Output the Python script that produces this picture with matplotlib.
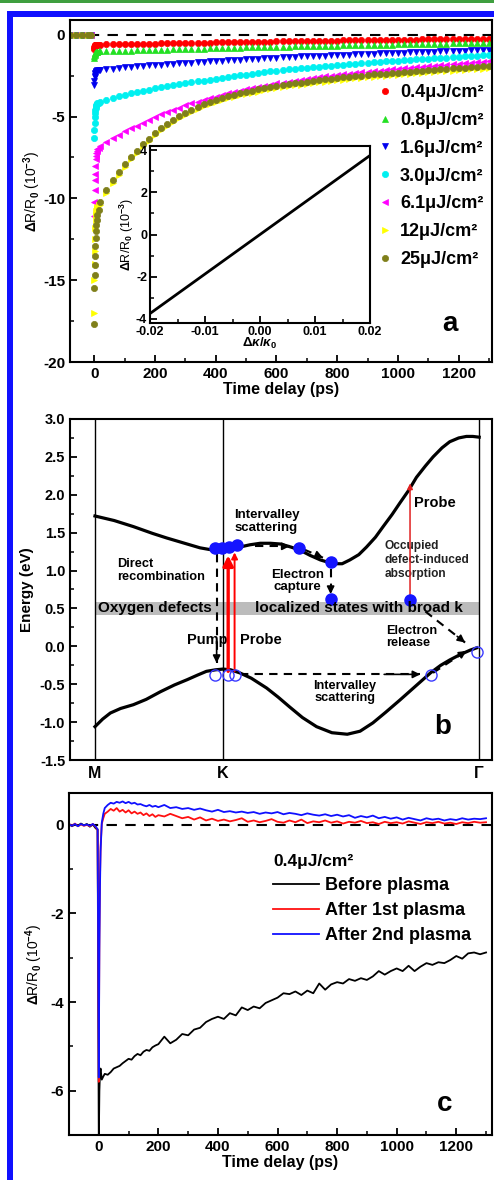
# Figura de tres paneles: reflectividad transitoria y diagrama de bandas
import numpy as np
import matplotlib.pyplot as plt
from matplotlib.patches import Rectangle
from matplotlib.ticker import MultipleLocator, FormatStrFormatter

plt.rcParams['font.family'] = ['Liberation Sans', 'DejaVu Sans']
plt.rcParams['font.weight'] = 'bold'
plt.rcParams['axes.labelweight'] = 'bold'
plt.rcParams['axes.unicode_minus'] = False
plt.rcParams['mathtext.fontset'] = 'custom'
plt.rcParams['mathtext.rm'] = 'Liberation Sans'
plt.rcParams['mathtext.it'] = 'Liberation Sans:italic'
plt.rcParams['mathtext.bf'] = 'Liberation Sans:bold'
plt.rcParams['axes.linewidth'] = 1.5

# ---------------- DATOS PANEL a ----------------
t_a = np.concatenate([[-80, -60, -40, -20, -10, 0, 0.5, 1, 1.5, 2, 3, 4, 5, 6, 8, 10, 14],
                      np.arange(20, 1301, 20)])

dr_04 = [0, 0, 0, 0, 0, -0.85, -0.75, -0.70, -0.67, -0.65, -0.64, -0.63, -0.62, -0.62, -0.61, -0.61, -0.61,
         -0.60, -0.59, -0.58, -0.58, -0.57, -0.56, -0.56, -0.55, -0.54, -0.54, -0.53, -0.52, -0.52, -0.51, -0.50,
         -0.50, -0.49, -0.48, -0.48, -0.47, -0.46, -0.46, -0.45, -0.45, -0.44, -0.43, -0.43, -0.42, -0.42, -0.41,
         -0.40, -0.40, -0.39, -0.39, -0.38, -0.38, -0.37, -0.37, -0.36, -0.36, -0.35, -0.35, -0.34, -0.34, -0.33,
         -0.33, -0.32, -0.32, -0.31, -0.31, -0.31, -0.30, -0.30, -0.29, -0.29, -0.29, -0.28, -0.28, -0.27, -0.27,
         -0.27, -0.26, -0.26, -0.25, -0.25]
dr_08 = [0, 0, 0, 0, 0, -1.45, -1.30, -1.22, -1.17, -1.13, -1.10, -1.08, -1.06, -1.05, -1.04, -1.03, -1.02,
         -1.02, -1.01, -1.00, -0.99, -0.98, -0.97, -0.96, -0.95, -0.94, -0.93, -0.92, -0.91, -0.90, -0.89, -0.88,
         -0.87, -0.86, -0.85, -0.84, -0.83, -0.82, -0.81, -0.80, -0.79, -0.78, -0.77, -0.76, -0.76, -0.75, -0.74,
         -0.73, -0.72, -0.71, -0.71, -0.70, -0.69, -0.68, -0.67, -0.67, -0.66, -0.65, -0.64, -0.64, -0.63, -0.62,
         -0.62, -0.61, -0.60, -0.60, -0.59, -0.58, -0.58, -0.57, -0.56, -0.56, -0.55, -0.55, -0.54, -0.53, -0.53,
         -0.52, -0.52, -0.51, -0.51, -0.50]
dr_16 = [0, 0, 0, 0, 0, -3.10, -2.80, -2.60, -2.50, -2.42, -2.35, -2.30, -2.27, -2.24, -2.20, -2.18, -2.16,
         -2.15, -2.11, -2.07, -2.04, -2.00, -1.97, -1.94, -1.91, -1.88, -1.85, -1.83, -1.80, -1.78, -1.75, -1.73,
         -1.70, -1.68, -1.65, -1.63, -1.60, -1.58, -1.56, -1.54, -1.52, -1.50, -1.48, -1.46, -1.44, -1.42, -1.40,
         -1.38, -1.37, -1.35, -1.33, -1.32, -1.30, -1.28, -1.27, -1.25, -1.23, -1.22, -1.21, -1.19, -1.18, -1.17,
         -1.15, -1.14, -1.13, -1.11, -1.10, -1.09, -1.08, -1.07, -1.05, -1.04, -1.03, -1.02, -1.01, -0.99, -0.98,
         -0.97, -0.96, -0.95, -0.93, -0.92]
dr_30 = [0, 0, 0, 0, 0, -6.30, -5.80, -5.40, -5.00, -4.80, -4.60, -4.45, -4.35, -4.30, -4.25, -4.20, -4.15,
         -4.10, -3.98, -3.87, -3.77, -3.68, -3.59, -3.51, -3.43, -3.35, -3.28, -3.21, -3.14, -3.08, -3.02, -2.96,
         -2.90, -2.85, -2.80, -2.75, -2.70, -2.64, -2.59, -2.54, -2.49, -2.44, -2.39, -2.34, -2.29, -2.24, -2.19,
         -2.16, -2.12, -2.09, -2.05, -2.02, -1.98, -1.95, -1.92, -1.89, -1.86, -1.83, -1.80, -1.77, -1.74, -1.71,
         -1.68, -1.66, -1.63, -1.61, -1.58, -1.56, -1.53, -1.51, -1.48, -1.46, -1.44, -1.42, -1.40, -1.38, -1.36,
         -1.33, -1.31, -1.29, -1.26, -1.24]
dr_61 = [0, 0, 0, 0, 0, -11.1, -10.2, -9.5, -8.9, -8.5, -8.0, -7.6, -7.4, -7.2, -7.1, -7.0, -6.9,
         -6.80, -6.55, -6.32, -6.10, -5.90, -5.72, -5.55, -5.38, -5.20, -5.03, -4.87, -4.72, -4.58, -4.45, -4.32,
         -4.20, -4.09, -3.98, -3.88, -3.78, -3.68, -3.59, -3.50, -3.42, -3.34, -3.26, -3.19, -3.12, -3.05, -2.98,
         -2.92, -2.86, -2.80, -2.75, -2.70, -2.65, -2.60, -2.55, -2.51, -2.46, -2.42, -2.38, -2.34, -2.30, -2.26,
         -2.22, -2.19, -2.15, -2.12, -2.08, -2.05, -2.02, -1.98, -1.95, -1.92, -1.89, -1.86, -1.83, -1.80, -1.77,
         -1.74, -1.71, -1.68, -1.66, -1.63]
dr_12 = [0, 0, 0, 0, 0, -17.0, -15.0, -14.0, -13.2, -12.5, -11.8, -11.3, -11.0, -10.8, -10.6, -10.5, -10.4,
         -10.40, -9.70, -9.08, -8.55, -8.06, -7.62, -7.21, -6.83, -6.48, -6.15, -5.85, -5.58, -5.33, -5.10, -4.89,
         -4.70, -4.53, -4.37, -4.22, -4.09, -3.98, -3.88, -3.79, -3.70, -3.62, -3.54, -3.47, -3.40, -3.33, -3.27,
         -3.21, -3.15, -3.10, -3.05, -3.00, -2.95, -2.90, -2.86, -2.82, -2.78, -2.74, -2.70, -2.66, -2.63, -2.59,
         -2.56, -2.53, -2.50, -2.47, -2.44, -2.41, -2.38, -2.35, -2.32, -2.30, -2.27, -2.24, -2.22, -2.19, -2.17,
         -2.14, -2.12, -2.10, -2.07, -2.05]
dr_25 = [0, 0, 0, 0, 0, -17.7, -15.5, -14.7, -14.1, -13.5, -12.9, -12.4, -12.0, -11.6, -11.3, -11.0, -10.7,
         -10.20, -9.50, -8.90, -8.38, -7.90, -7.48, -7.08, -6.70, -6.35, -6.02, -5.72, -5.45, -5.20, -4.97, -4.76,
         -4.57, -4.40, -4.24, -4.09, -3.96, -3.85, -3.75, -3.66, -3.57, -3.49, -3.41, -3.34, -3.27, -3.20, -3.14,
         -3.08, -3.02, -2.97, -2.92, -2.87, -2.82, -2.77, -2.73, -2.69, -2.65, -2.61, -2.57, -2.53, -2.50, -2.46,
         -2.43, -2.40, -2.37, -2.34, -2.31, -2.28, -2.25, -2.22, -2.19, -2.17, -2.14, -2.11, -2.09, -2.06, -2.04,
         -2.01, -1.99, -1.97, -1.94, -1.92]

etiquetas_a = ['0.4μJ/cm²', '0.8μJ/cm²', '1.6μJ/cm²', '3.0μJ/cm²', '6.1μJ/cm²', '12μJ/cm²', '25μJ/cm²']
colores_a = ['#ff0000', '#22e022', '#0000ee', '#00f0f0', '#ff00ff', '#ffff00', '#7f7f1a']
marcas_a = ['o', '^', 'v', 'o', '<', '>', 'o']

# recuadro: dR/R vs dk/k
dk_in = [-0.02, 0.02]
dr_in = [-3.75, 3.75]

# ---------------- DATOS PANEL b ----------------
cb_k = [0.0, 0.15, 0.30, 0.45, 0.56, 0.70, 0.82, 0.92, 1.0, 1.07, 1.13, 1.21, 1.29, 1.37, 1.45, 1.53, 1.60,
        1.68, 1.76, 1.86, 1.93, 1.99, 2.06, 2.12, 2.19, 2.25, 2.32, 2.38, 2.45, 2.51, 2.58, 2.64, 2.71, 2.77,
        2.84, 2.90, 2.95, 3.0]
cb_E = [1.72, 1.66, 1.58, 1.49, 1.43, 1.36, 1.30, 1.27, 1.26, 1.28, 1.31, 1.34, 1.36, 1.36, 1.35, 1.31, 1.27,
        1.20, 1.14, 1.09, 1.09, 1.14, 1.21, 1.31, 1.44, 1.58, 1.74, 1.89, 2.06, 2.23, 2.38, 2.50, 2.62, 2.70,
        2.75, 2.77, 2.77, 2.76]
vb_k = [0.0, 0.06, 0.12, 0.20, 0.30, 0.40, 0.51, 0.62, 0.72, 0.80, 0.87, 0.94, 1.0, 1.06, 1.13, 1.22, 1.34,
        1.43, 1.52, 1.62, 1.73, 1.85, 1.97, 2.07, 2.17, 2.27, 2.38, 2.50, 2.62, 2.70, 2.77, 2.85, 2.93, 2.98]
vb_E = [-1.06, -0.96, -0.88, -0.82, -0.77, -0.70, -0.60, -0.51, -0.44, -0.38, -0.33, -0.31, -0.30, -0.31,
        -0.35, -0.42, -0.55, -0.67, -0.80, -0.94, -1.06, -1.14, -1.16, -1.12, -1.01, -0.87, -0.71, -0.53, -0.35,
        -0.25, -0.18, -0.11, -0.05, -0.02]

# electrones (llenos) y huecos (vacios)
elec_k = [0.94, 0.99, 1.05, 1.11, 1.59, 1.84, 1.84, 2.46]
elec_E = [1.30, 1.30, 1.31, 1.34, 1.30, 1.11, 0.63, 0.61]
hueco_k = [0.94, 1.04, 1.09, 2.62, 2.98]
hueco_E = [-0.38, -0.38, -0.38, -0.38, -0.07]

pos_k = [0, 1, 3]
nombres_k = ['M', 'K', 'Γ']

# ---------------- DATOS PANEL c ----------------
t_c = np.concatenate([[-100, -90, -80, -70, -60, -50, -40, -30, -20, -10, -4, 0, 1, 2, 4, 6, 10, 15, 20,
                       30, 40, 50, 60, 70, 80, 90, 100, 110, 120, 130, 140, 150, 160, 170, 180, 190],
                      np.arange(200, 1301, 20)])

antes = [0.02, -0.03, 0.01, -0.02, 0.03, -0.01, 0.02, -0.04, 0.01, -0.08, -0.10,
         -7.2, -6.6, -6.0, -5.6, -5.5, -5.75, -5.68, -5.62,
         -5.64, -5.58, -5.50, -5.47, -5.44, -5.38, -5.33, -5.28, -5.30, -5.22, -5.17, -5.20, -5.12, -5.08,
         -5.10, -5.02, -4.98,
         -4.95, -4.78, -4.93, -4.85, -4.72, -4.75, -4.62, -4.58, -4.45, -4.38,
         -4.33, -4.38, -4.25, -4.30, -4.12, -4.18, -4.10, -4.14, -4.02, -3.96,
         -3.90, -3.80, -3.82, -3.76, -3.84, -3.74, -3.80, -3.58, -3.72, -3.60,
         -3.55, -3.58, -3.48, -3.52, -3.46, -3.50, -3.42, -3.30, -3.38, -3.30,
         -3.24, -3.30, -3.18, -3.30, -3.20, -3.12, -3.16, -3.10, -3.12, -3.05,
         -2.96, -3.02, -2.90, -2.88, -2.92, -2.88]
plasma1 = [0.02, -0.02, 0.03, -0.03, 0.01, -0.02, 0.0, -0.03, 0.02, -0.05, -0.12,
           -5.8, -4.0, -2.5, -1.2, -0.5, 0.02, 0.15, 0.25,
           0.30, 0.36, 0.32, 0.38, 0.30, 0.34, 0.28, 0.33, 0.26, 0.30, 0.25, 0.28, 0.22, 0.26, 0.20, 0.24, 0.18,
           0.22, 0.19, 0.25, 0.20, 0.15, 0.18, 0.12, 0.17, 0.10, 0.14,
           0.09, 0.12, 0.08, 0.11, 0.15, 0.07, 0.10, 0.06, 0.09, 0.13,
           0.07, 0.05, 0.10, 0.06, 0.12, 0.04, 0.08, 0.06, 0.10, 0.05,
           0.08, 0.03, 0.07, 0.05, 0.09, 0.04, 0.06, 0.02, 0.07, 0.04,
           0.06, 0.03, 0.08, 0.05, 0.02, 0.06, 0.04, 0.07, 0.03, 0.05,
           0.02, 0.06, 0.04, 0.07, 0.05, 0.06]
plasma2 = [0.01, -0.02, 0.02, -0.03, 0.02, -0.01, 0.01, -0.02, 0.02, -0.04, -0.10,
           -5.7, -4.2, -2.8, -1.4, -0.6, 0.05, 0.25, 0.38,
           0.45, 0.50, 0.48, 0.52, 0.50, 0.53, 0.49, 0.52, 0.48, 0.50, 0.46, 0.47, 0.44, 0.42, 0.45, 0.41, 0.43,
           0.40, 0.45, 0.38, 0.40, 0.36, 0.38, 0.34, 0.37, 0.33, 0.30,
           0.34, 0.29, 0.31, 0.28, 0.30, 0.27, 0.29, 0.25, 0.28, 0.26,
           0.29, 0.24, 0.27, 0.25, 0.22, 0.26, 0.23, 0.21, 0.24, 0.20,
           0.23, 0.19, 0.22, 0.16, 0.20, 0.17, 0.21, 0.15, 0.18, 0.14,
           0.17, 0.12, 0.16, 0.13, 0.10, 0.15, 0.12, 0.14, 0.10, 0.13,
           0.11, 0.15, 0.12, 0.14, 0.13, 0.15]


def ejes_estilo(ax, fs=10.5):
    ax.tick_params(which='both', direction='in', top=False, right=False, labelsize=fs)
    ax.tick_params(which='major', length=5, width=1.3)
    ax.tick_params(which='minor', length=3, width=1.1)


def negrita(ax):
    # etiquetas de ticks en negrita
    for lab in ax.get_xticklabels() + ax.get_yticklabels():
        lab.set_fontweight('bold')


fig = plt.figure(figsize=(4.94, 11.8), dpi=100)
W, H = 494.0, 1180.0

# marco verde y azul de la pagina
fig.add_artist(Rectangle((0, 1 - 3/H), 1, 3/H, transform=fig.transFigure, color='#3f9f3f', lw=0))
fig.add_artist(Rectangle((7/W, 1 - 17/H), 1, 6/H, transform=fig.transFigure, color='#1010ff', lw=0))
fig.add_artist(Rectangle((7/W, 0), 6/W, 1 - 11/H, transform=fig.transFigure, color='#1010ff', lw=0))

# ---------------- PANEL a ----------------
ax1 = fig.add_axes([70/W, 1 - 362/H, 422/W, 342/H])
series_a = [dr_04, dr_08, dr_16, dr_30, dr_61, dr_12, dr_25]
for vals, col, mk, lab in zip(series_a, colores_a, marcas_a, etiquetas_a):
    ax1.plot(t_a, vals, ls='none', marker=mk, ms=4.5, color=col, mec=col, mew=0.5, label=lab)
ax1.axhline(0, color='k', ls='--', lw=1.5, dashes=(5, 4), zorder=0)
ax1.set_xlim(-80, 1310)
ax1.set_ylim(-20, 0.9)
ax1.xaxis.set_major_locator(MultipleLocator(200))
ax1.xaxis.set_minor_locator(MultipleLocator(100))
ax1.yaxis.set_major_locator(MultipleLocator(5))
ax1.yaxis.set_minor_locator(MultipleLocator(2.5))
ejes_estilo(ax1, 11)
negrita(ax1)
ax1.set_xlabel('Time delay (ps)', fontsize=11.5, labelpad=1)
ax1.set_ylabel(r'$\Delta$R/R$_0$ (10$^{-3}$)', fontsize=10, fontweight='normal', labelpad=0)
leg = ax1.legend(loc='upper left', bbox_to_anchor=(0.69, 0.86), frameon=False, fontsize=13,
                 handlelength=0.8, handletextpad=0.45, labelspacing=0.6, markerscale=1.0)
ax1.text(0.90, 0.11, 'a', transform=ax1.transAxes, fontsize=20, ha='center', va='center')

# recuadro
axi = fig.add_axes([150/W, 1 - 323/H, 220/W, 177/H])
axi.plot(dk_in, dr_in, color='k', lw=2)
axi.set_xlim(-0.02, 0.02)
axi.set_ylim(-4.2, 4.2)
axi.xaxis.set_major_locator(MultipleLocator(0.01))
axi.xaxis.set_minor_locator(MultipleLocator(0.005))
axi.yaxis.set_major_locator(MultipleLocator(2))
axi.yaxis.set_minor_locator(MultipleLocator(1))
axi.xaxis.set_major_formatter(FormatStrFormatter('%.2f'))
ejes_estilo(axi, 9)
axi.tick_params(axis='both', pad=2)
negrita(axi)
axi.set_xlabel(r'$\Delta\kappa/\kappa_0$', fontsize=9.5, fontweight='normal', labelpad=-1)
axi.set_ylabel(r'$\Delta$R/R$_0$ (10$^{-3}$)', fontsize=9, fontweight='normal', labelpad=0)

# ---------------- PANEL b ----------------
ax2 = fig.add_axes([70/W, 1 - 760/H, 422/W, 341/H])
ax2.set_xlim(-0.195, 3.10)
ax2.set_ylim(-1.5, 3.0)
for k in pos_k:
    ax2.axvline(k, color='k', lw=1)
ax2.fill_between([0, 3], 0.42, 0.58, color='#bcbcbc', lw=0, zorder=1)
ax2.plot(cb_k, cb_E, color='k', lw=2.3, zorder=3)
ax2.plot(vb_k, vb_E, color='k', lw=2.3, zorder=3)

flecha = dict(arrowstyle='-|>', color='k', lw=1.2, mutation_scale=11, shrinkA=0, shrinkB=0)


def dash_arrow(x0, y0, x1, y1):
    ax2.plot([x0, x1], [y0, y1], color='k', lw=1.5, ls='--', dashes=(4, 3), zorder=4)
    xm = x0 + 0.8 * (x1 - x0)
    ym = y0 + 0.8 * (y1 - y0)
    ax2.annotate('', xy=(x1, y1), xytext=(xm, ym), arrowprops=flecha, zorder=5)


dash_arrow(0.95, 1.22, 0.95, -0.22)
dash_arrow(1.25, 1.32, 1.52, 1.32)
dash_arrow(1.63, 1.28, 1.78, 1.17)
dash_arrow(1.84, 1.02, 1.84, 0.69)
dash_arrow(1.13, -0.37, 2.54, -0.37)
dash_arrow(2.64, -0.35, 2.90, -0.06)
dash_arrow(2.58, 0.46, 2.89, 0.05)

# flechas rojas de bombeo y prueba
ax2.annotate('', xy=(1.04, 1.20), xytext=(1.04, -0.33),
             arrowprops=dict(arrowstyle='-|>', color='red', lw=2.4, mutation_scale=15, shrinkA=0, shrinkB=0),
             zorder=6)
ax2.annotate('', xy=(1.09, 1.24), xytext=(1.09, -0.33),
             arrowprops=dict(arrowstyle='-|>', color='red', lw=1.4, mutation_scale=9, shrinkA=0, shrinkB=0),
             zorder=6)
ax2.annotate('', xy=(2.46, 2.15), xytext=(2.46, 0.60),
             arrowprops=dict(arrowstyle='-|>', color='#e02020', lw=1.1, mutation_scale=8, shrinkA=0, shrinkB=0),
             zorder=6)

ax2.plot(elec_k, elec_E, ls='none', marker='o', ms=8, color='#1515ff', zorder=7)
ax2.plot(hueco_k, hueco_E, ls='none', marker='o', ms=8, mfc='none', mec='#3a3aff', mew=1, zorder=7)

ax2.text(1.34, 1.65, 'Intervalley\nscattering', fontsize=9.5, ha='center', va='center', linespacing=1.05)
ax2.text(0.17, 1.00, 'Direct\nrecombination', fontsize=9.2, ha='left', va='center', linespacing=1.05)
ax2.text(1.58, 0.86, 'Electron\ncapture', fontsize=9.5, ha='center', va='center', linespacing=1.0)
ax2.text(2.26, 1.14, 'Occupied\ndefect-induced\nabsorption', fontsize=8.6, ha='left', va='center',
         linespacing=1.2, color='#222222')
ax2.text(2.49, 1.89, 'Probe', fontsize=10.5, ha='left', va='center')
ax2.text(0.02, 0.50, 'Oxygen defects', fontsize=11, ha='left', va='center', zorder=8)
ax2.text(1.25, 0.50, 'localized states with broad k', fontsize=11, ha='left', va='center', zorder=8)
ax2.text(0.875, 0.08, 'Pump', fontsize=10.5, ha='center', va='center')
ax2.text(1.13, 0.08, 'Probe', fontsize=10.5, ha='left', va='center')
ax2.text(2.27, 0.12, 'Electron\nrelease', fontsize=9.2, ha='left', va='center', linespacing=1.05)
ax2.text(1.95, -0.60, 'Intervalley\nscattering', fontsize=9.2, ha='center', va='center', linespacing=1.05)
ax2.text(0.884, 0.097, 'b', transform=ax2.transAxes, fontsize=20, ha='center', va='center')

ax2.set_xticks(pos_k)
ax2.set_xticklabels(nombres_k)
ax2.yaxis.set_major_locator(MultipleLocator(0.5))
ax2.yaxis.set_minor_locator(MultipleLocator(0.25))
ax2.yaxis.set_major_formatter(FormatStrFormatter('%.1f'))
ejes_estilo(ax2, 10.5)
ax2.tick_params(axis='x', which='both', length=0, labelsize=11.5, pad=4)
negrita(ax2)
ax2.set_ylabel('Energy (eV)', fontsize=11, labelpad=4)

# ---------------- PANEL c ----------------
ax3 = fig.add_axes([69/W, 1 - 1135/H, 423/W, 342/H])
ax3.plot(t_c, antes, color='k', lw=1.3, label='Before plasma')
ax3.plot(t_c, plasma1, color='#ff1010', lw=1.3, label='After 1st plasma')
ax3.plot(t_c, plasma2, color='#1010ff', lw=1.3, label='After 2nd plasma')
ax3.axhline(0, color='k', ls='--', lw=1.5, dashes=(5, 4), zorder=0)
ax3.set_xlim(-100, 1320)
ax3.set_ylim(-7.0, 0.72)
ax3.xaxis.set_major_locator(MultipleLocator(200))
ax3.xaxis.set_minor_locator(MultipleLocator(100))
ax3.yaxis.set_major_locator(MultipleLocator(2))
ax3.yaxis.set_minor_locator(MultipleLocator(1))
ejes_estilo(ax3, 11)
negrita(ax3)
ax3.set_xlabel('Time delay (ps)', fontsize=11.5, labelpad=1)
ax3.set_ylabel(r'$\Delta$R/R$_0$ (10$^{-4}$)', fontsize=10, fontweight='normal', labelpad=4)
leg3 = ax3.legend(loc='upper left', bbox_to_anchor=(0.445, 0.87), frameon=False, fontsize=13,
                  title='0.4μJ/cm²', title_fontproperties={'size': 12.5, 'weight': 'bold'},
                  alignment='left', handlelength=2.5, handletextpad=0.35, labelspacing=0.45)
ax3.text(0.889, 0.09, 'c', transform=ax3.transAxes, fontsize=20, ha='center', va='center')

plt.savefig('out.png', dpi=100)
